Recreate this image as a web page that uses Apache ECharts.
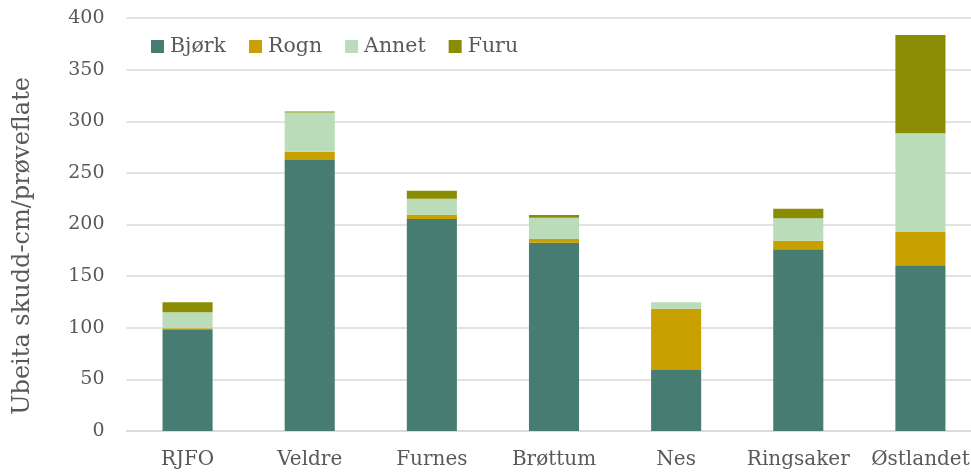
<!DOCTYPE html>
<html><head><meta charset="utf-8">
<script src="https://cdn.jsdelivr.net/npm/echarts@6/dist/echarts.min.js"></script>
<style>html,body{margin:0;padding:0;background:#fff}#c{width:971px;height:472px}</style>
</head><body><div id="c"></div>
<script>
const categories = ['RJFO','Veldre','Furnes','Brøttum','Nes','Ringsaker','Østlandet'];
const bjork = [98.5, 262.5, 205.3, 182.4, 59, 176, 160.5];
const rogn  = [1, 8, 4.2, 3.6, 59.5, 8.3, 32.2];
const annet = [15.5, 38, 15.5, 20.6, 6.1, 21.7, 95.6];
const furu  = [9.7, 1, 7.7, 2.6, 0, 9.3, 95.2];
const yTicks = [0, 50, 100, 150, 200, 250, 300, 350, 400];

const FONT = 'DejaVu Serif';
const TXT = '#595959';
const chart = echarts.init(document.getElementById('c'), null, {renderer:'canvas'});
function s(name, data, color){
  return {name, type:'bar', stack:'t', data, barWidth:'41%', itemStyle:{color}, emphasis:{disabled:true}};
}
chart.setOption({
  animation:false,
  textStyle:{fontFamily:FONT},
  grid:{left:126.5, width:855, top:18, bottom:41, containLabel:false, outerBoundsMode:'none'},
  legend:{
    left:146, top:31, itemWidth:13, itemHeight:13, itemGap:23, icon:'rect',
    textStyle:{fontFamily:FONT, fontSize:20.5, color:TXT, padding:[0,0,0,1]},
    data:['Bjørk','Rogn','Annet','Furu']
  },
  xAxis:{type:'category', data:categories,
    axisLine:{show:true, lineStyle:{color:'#d9d9d9', width:1.5}},
    axisTick:{show:false},
    axisLabel:{fontFamily:FONT, fontSize:20, color:TXT, margin:19, interval:0}
  },
  yAxis:{type:'value', min:yTicks[0], max:yTicks[yTicks.length-1], interval:50,
    axisLine:{show:false}, axisTick:{show:false},
    splitLine:{lineStyle:{color:'#d9d9d9', width:1.5}},
    axisLabel:{fontFamily:FONT, fontSize:19, color:TXT, margin:22}
  },
  graphic:[{type:'text', left:11, top:77, rotation:Math.PI/2, 
    style:{text:'Ubeita skudd-cm/prøveflate', fontFamily:FONT, fontSize:24, fill:TXT}}],
  series:[
    s('Bjørk', bjork, '#467C72'),
    s('Rogn', rogn, '#C8A000'),
    s('Annet', annet, '#BBDCB8'),
    s('Furu', furu, '#8A8D03')
  ]
});
</script></body></html>
